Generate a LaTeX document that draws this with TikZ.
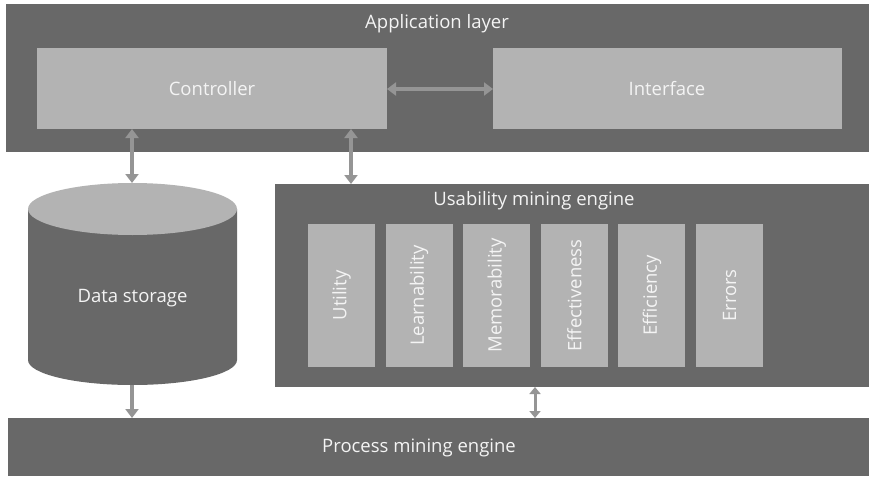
\documentclass[tikz,border=0pt]{standalone}
\usepackage{fontspec}
\setmainfont{Open Sans}
\usetikzlibrary{arrows.meta,shapes.geometric}
\definecolor{dark}{HTML}{686868}
\definecolor{light}{HTML}{B3B3B3}
\definecolor{arr}{HTML}{959595}
\definecolor{txt}{HTML}{F4F4F4}
\tikzset{
  darkbox/.style={fill=dark,draw=none,inner sep=0pt},
  lightbox/.style={fill=light,draw=none,inner sep=0pt},
  lbl/.style={text=txt,font=\fontsize{18.5}{20}\selectfont,inner sep=0pt},
  vlbl/.style={text=txt,font=\fontsize{18.5}{20}\selectfont,inner sep=0pt,rotate=90},
  conn/.style={draw=arr,line width=4pt,{Triangle[length=9pt,width=13pt]}-{Triangle[length=9pt,width=13pt]}},
  conn1/.style={draw=arr,line width=4pt,-{Triangle[length=9pt,width=13pt]}}
}
\begin{document}
\begin{tikzpicture}[x=1pt,y=-1pt]
\useasboundingbox[fill=white] (0,0) rectangle (869,476);
% application layer
\path[darkbox] (6,4) rectangle (869,152);
\node[lbl] (app) at (437,24) {Application layer};
\path[lightbox] (37,48) rectangle (387,129);
\node[lbl] (ctrl) at (212,89) {Controller};
\path[lightbox] (493,48) rectangle (842,129);
\node[lbl] (intf) at (667,89) {Interface};
\coordinate (ctrlE) at (387,89);
\coordinate (intfW) at (493,89);
\draw[conn] (ctrlE) -- (intfW);
% cylinder
\fill[dark] (28,209) -- (28,360) arc[start angle=180,end angle=0,x radius=104.5,y radius=25] -- (237,209) -- cycle;
\fill[light] (132.5,209) ellipse[x radius=104.5,y radius=26];
\node[lbl] (ds) at (132.5,298) {Data storage};
\coordinate (dsTop) at (132,183);
\coordinate (dsBot) at (132,385);
\coordinate (ctrlB1) at (132,129);
\coordinate (ctrlB2) at (351,129);
\draw[conn] (ctrlB1) -- (dsTop);
% usability
\path[darkbox] (275,184) rectangle (869,387);
\node[lbl] (ume) at (534,201) {Usability mining engine};
\coordinate (umeTop) at (351,184);
\draw[conn] (ctrlB2) -- (umeTop);
\foreach \x/\t/\n in {308/Utility/u1,385.6/Learnability/u2,463.2/Memorability/u3,540.8/Effectiveness/u4,618.4/Efficiency/u5,696/Errors/u6}{
  \path[lightbox] (\x,224) rectangle ++(67,143);
  \node[vlbl] (\n) at (\x+33.5,295.5) {\t};
}
% process mining
\path[darkbox] (8,418) rectangle (869,476);
\node[lbl] (pme) at (419,448) {Process mining engine};
\coordinate (pmeTop1) at (132,418);
\coordinate (pmeTop2) at (535,418);
\coordinate (umeBot) at (535,387);
\draw[conn1] (dsBot) -- (pmeTop1);
\draw[draw=arr,line width=3pt,{Triangle[length=7pt,width=11pt]}-{Triangle[length=7pt,width=11pt]}] (umeBot) -- (pmeTop2);
\end{tikzpicture}
\end{document}
